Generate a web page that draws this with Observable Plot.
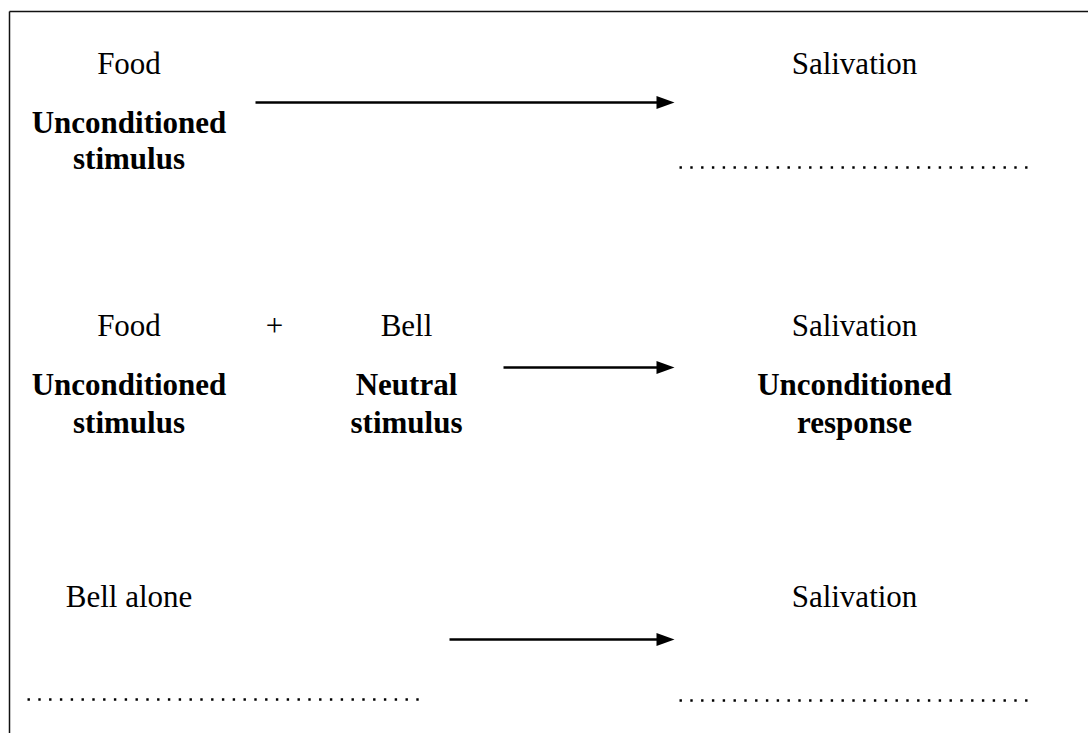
<!DOCTYPE html>
<html>
<head>
<meta charset="utf-8">
<script src="https://cdn.jsdelivr.net/npm/d3@7"></script>
<script src="https://cdn.jsdelivr.net/npm/@observablehq/plot@0.6"></script>
<style>
  html, body { margin: 0; padding: 0; background: #fff; }
  svg { display: block; }
</style>
</head>
<body>
<script>
// ---- content ----
const regularLabels = [
  {text: "Food",       col: "left",  line: "r1a"},
  {text: "Salivation", col: "right", line: "r1a"},
  {text: "Food",       col: "left",  line: "r2a"},
  {text: "+",          col: "plus",  line: "r2a"},
  {text: "Bell",       col: "mid",   line: "r2a"},
  {text: "Salivation", col: "right", line: "r2a"},
  {text: "Bell alone", col: "left",  line: "r3a"},
  {text: "Salivation", col: "right", line: "r3a"}
];
const boldLabels = [
  {text: "Unconditioned", col: "left",  line: "r1b"},
  {text: "stimulus",      col: "left",  line: "r1c"},
  {text: "Unconditioned", col: "left",  line: "r2b"},
  {text: "stimulus",      col: "left",  line: "r2c"},
  {text: "Neutral",       col: "mid",   line: "r2b"},
  {text: "stimulus",      col: "mid",   line: "r2c"},
  {text: "Unconditioned", col: "right", line: "r2b"},
  {text: "response",      col: "right", line: "r2c"}
];

// ---- layout (pixel grid of the diagram) ----
const colX = {left: 128.5, plus: 274, mid: 406, right: 854};
const lineY = {r1a: 73, r1b: 132, r1c: 168, r2a: 335, r2b: 394, r2c: 432, r3a: 606};
const arrows = [
  {x1: 255, x2: 674, y: 102},
  {x1: 503, x2: 674, y: 367},
  {x1: 449, x2: 674, y: 639}
];
const dotLines = [
  {x1: 679, x2: 1034, y: 167},
  {x1: 27,  x2: 422,  y: 699},
  {x1: 679, x2: 1034, y: 700}
];
const frameLines = [
  {x1: 9, y1: 11, x2: 1088, y2: 11},
  {x1: 9, y1: 11, x2: 9,    y2: 733}
];

const arrowHead = {
  draw(context) {
    context.moveTo(-18, -6.5);
    context.lineTo(0, 0);
    context.lineTo(-18, 6.5);
    context.closePath();
  }
};

const font = "'Liberation Serif', 'Times New Roman', serif";

const chart = Plot.plot({
  width: 1088,
  height: 733,
  margin: 0,
  x: {domain: [0, 1088], range: [0, 1088], axis: null},
  y: {domain: [0, 733], range: [0, 733], axis: null},
  style: {background: "#fff"},
  marks: [
    Plot.link(frameLines, {x1: "x1", y1: "y1", x2: "x2", y2: "y2", stroke: "#111", strokeWidth: 1.5}),
    Plot.link(arrows, {x1: "x1", x2: d => d.x2 - 12, y1: "y", y2: "y", stroke: "#000", strokeWidth: 2.6}),
    Plot.dot(arrows, {x: "x2", y: "y", symbol: arrowHead, fill: "#000", stroke: "none", r: 5}),
    Plot.link(dotLines, {x1: "x1", x2: "x2", y1: "y", y2: "y", stroke: "#000", strokeWidth: 2.4, strokeDasharray: "2.4 8.4"}),
    Plot.text(regularLabels, {
      x: d => colX[d.col], y: d => lineY[d.line], text: "text",
      textAnchor: "middle", lineAnchor: "bottom",
      fontFamily: font, fontSize: 31, fill: "#000"
    }),
    Plot.text(boldLabels, {
      x: d => colX[d.col], y: d => lineY[d.line], text: "text",
      textAnchor: "middle", lineAnchor: "bottom",
      fontFamily: font, fontSize: 31, fontWeight: "bold", fill: "#000"
    })
  ]
});
document.body.appendChild(chart);
</script>
</body>
</html>
